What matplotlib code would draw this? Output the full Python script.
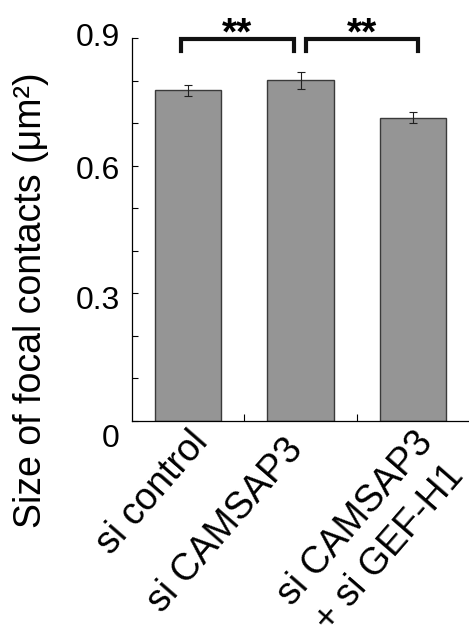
import matplotlib
matplotlib.use("Agg")
import matplotlib.pyplot as plt
import matplotlib.transforms as mtransforms
import numpy as np

plt.rcParams['font.family'] = ['Liberation Sans', 'DejaVu Sans']

categories = ["si control", "si CAMSAP3", "si CAMSAP3\n+ si GEF-H1"]
values = [0.777, 0.801, 0.713]
errors = [0.0134, 0.020, 0.0137]
yticks = [0, 0.3, 0.6, 0.9]
yticklabels = ["0", "0.3", "0.6", "0.9"]
# significance brackets: (start bar, end bar, label)
sig_pairs = [(0, 1, "**"), (1, 2, "**")]

fig = plt.figure(figsize=(4.69, 6.44), dpi=100)
ax = fig.add_axes([0.2815, 0.3467, 0.7186, 0.5943])

x = np.arange(1, len(categories) + 1)
ax.bar(x, values, width=0.59, color="#959595", edgecolor="#3a3a3a", linewidth=1.0, zorder=2)
ax.errorbar(x, values, yerr=errors, fmt="none", ecolor="#202020", elinewidth=0.8,
            capsize=3, capthick=0.8, zorder=3)

ax.set_xlim(0.5, 3.5)
ax.set_ylim(0, 0.9)
for s in ["top", "right"]:
    ax.spines[s].set_visible(False)
for s in ["left", "bottom"]:
    ax.spines[s].set_linewidth(0.9)
    ax.spines[s].set_color("black")

ax.set_yticks(yticks)
ax.set_yticklabels(yticklabels, fontsize=23)
ax.set_yticks(np.arange(0, 0.91, 0.1), minor=True)
ax.tick_params(axis="y", which="both", direction="in", length=4, width=0.8, pad=9)

ax.set_xticks(x)
ax.set_xticklabels(categories, fontsize=27, rotation=49, ha="right",
                   rotation_mode="anchor", multialignment="center", linespacing=1.35)
ax.tick_params(axis="x", which="major", length=0, pad=3)
ax.set_xticks([1.5, 2.5], minor=True)
ax.tick_params(axis="x", which="minor", direction="in", length=5, width=0.8)

# small per-label pixel nudges to match the reference placement
def nudge(lbl, dx_px, dy_px):
    off = mtransforms.ScaledTranslation(dx_px / 100, -dy_px / 100, fig.dpi_scale_trans)
    lbl.set_transform(lbl.get_transform() + off)

xnudges = [(0, 0), (-17, 7), (0, 0)]
for lbl, (dx, dy) in zip(ax.get_xticklabels(), xnudges):
    nudge(lbl, dx, dy)
ynudges = [(0, 15), (0, 4), (0, 1.5), (0, -3)]
for lbl, (dx, dy) in zip(ax.get_yticklabels(), ynudges):
    nudge(lbl, dx, dy)

ax.set_ylabel("Size of focal contacts (μm²)", fontsize=27)
ax.yaxis.set_label_coords(-0.245, 0.315)

# brackets
for (i, j, lab) in sig_pairs:
    x0 = x[i] - 0.065 + (0.115 if i > 0 else 0)
    x1 = x[j] - 0.06 + (0.11 if j == 2 else 0)
    xs = [x0, x0, x1, x1]
    ys = [0.869, 0.898, 0.898, 0.869]
    ax.plot(xs, ys, color="#111111", lw=3, solid_joinstyle="miter", clip_on=False, zorder=4)
    ax.text((x0 + x1) / 2, 0.884, lab, ha="center", va="baseline", fontsize=28,
            fontweight="bold", clip_on=False)

fig.savefig("out.png", dpi=100)
